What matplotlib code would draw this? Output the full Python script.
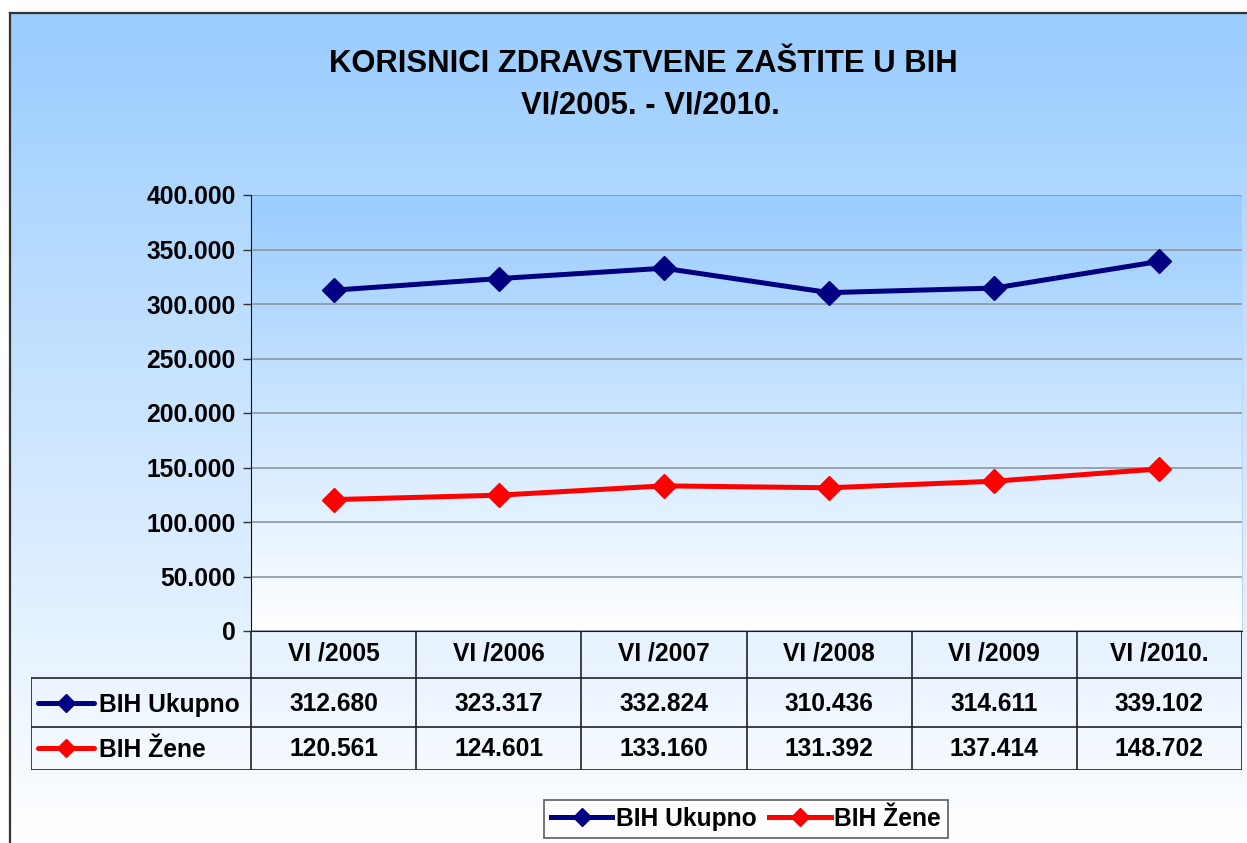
import numpy as np
import matplotlib
matplotlib.use("Agg")
import matplotlib.pyplot as plt
from matplotlib.lines import Line2D
from matplotlib.colors import LinearSegmentedColormap
from matplotlib.ticker import FuncFormatter

categories = ["VI /2005", "VI /2006", "VI /2007", "VI /2008", "VI /2009", "VI /2010."]
ukupno = [312680, 323317, 332824, 310436, 314611, 339102]
zene = [120561, 124601, 133160, 131392, 137414, 148702]
series_names = ["BIH Ukupno", "BIH Žene"]
series_colors = ["#000080", "#FF0000"]
title_lines = ["KORISNICI ZDRAVSTVENE ZAŠTITE U BIH", "VI/2005. - VI/2010."]

W, H = 1247, 843
FS = 17.7
plt.rcParams['font.family'] = ['Liberation Sans', 'DejaVu Sans']
plt.rcParams['font.weight'] = 'bold'
fig = plt.figure(figsize=(W / 100, H / 100), dpi=100)
fig.patch.set_facecolor('white')

def fx(px):
    return px / W

def fy(py):
    return 1 - py / H

cmap = LinearSegmentedColormap.from_list("bg", ["#99CCFF", "#FFFFFF"])
grad = np.linspace(0, 1, 256).reshape(-1, 1)

# figure background frame
bg = fig.add_axes([fx(10), 0, 1 - fx(10), fy(13)])
bg.imshow(grad, aspect='auto', cmap=cmap, extent=[0, 1, 0, 1], origin='upper')
bg.set_xlim(0, 1); bg.set_ylim(0, 1)
bg.set_xticks([]); bg.set_yticks([])
for s in ['right', 'bottom']:
    bg.spines[s].set_visible(False)
for s in ['left', 'top']:
    bg.spines[s].set_color('#333333')
    bg.spines[s].set_linewidth(1.6)
bg.set_zorder(0)

# main plot
L, R, T, B = 251, 1242, 195, 631
ax = fig.add_axes([fx(L), fy(B), fx(R - L), fy(T) - fy(B)])
ax.set_zorder(2)
ax.imshow(grad, aspect='auto', cmap=cmap, extent=[-0.5, 5.5, 0, 400000],
          origin='upper', zorder=0)
x = np.arange(len(categories))
for vals, col in zip([ukupno, zene], series_colors):
    ax.plot(x, vals, color=col, lw=3.6, marker='D', ms=12.5, zorder=5,
            solid_joinstyle='round', solid_capstyle='round')
ax.set_xlim(-0.5, 5.5)
ax.set_ylim(0, 400000)
ax.set_yticks(np.arange(0, 400001, 50000))
ax.yaxis.set_major_formatter(FuncFormatter(
    lambda v, p: "0" if v == 0 else f"{int(v):,}".replace(",", ".")))
ax.grid(axis='y', color='#8C96A0', lw=1.2, zorder=1)
ax.set_axisbelow(True)
ax.set_xticks([])
ax.tick_params(axis='y', length=6, width=1, color='#333333', labelsize=FS, pad=5)
for lab in ax.get_yticklabels():
    lab.set_fontweight('bold')
ax.spines['left'].set_color('#111111')
ax.spines['bottom'].set_color('#111111')
ax.spines['top'].set_visible(False)
ax.spines['right'].set_color('#B8D8F8')

# data table (row boundaries in pixel rows)
TL, TB = 31, 770
rows_y = [631, 678, 727, 770]
unit = (R - L) / 6.0
tab = fig.add_axes([fx(TL), fy(TB), fx(R - TL), fy(B) - fy(TB)])
tab.set_zorder(3)
tab.patch.set_alpha(0)
x0 = -0.5 - (L - TL) / unit
tab.set_xlim(x0, 5.5)
tab.set_ylim(rows_y[-1], rows_y[0])
tab.axis('off')
lc = '#222222'
tab.plot([-0.5, 5.5], [rows_y[0], rows_y[0]], color=lc, lw=1.2)
for yy in rows_y[1:]:
    tab.plot([x0, 5.5], [yy, yy], color=lc, lw=1.2)
tab.plot([x0, x0], [rows_y[1], rows_y[3]], color=lc, lw=1.2)
for i in range(7):
    tab.plot([i - 0.5, i - 0.5], [rows_y[0], rows_y[3]], color=lc, lw=1.2)
text_y = [653, 704, 749]
for i, c in enumerate(categories):
    tab.text(i, text_y[0], c, ha='center', va='center', fontsize=FS, fontweight='bold')
for r, (vals, name, col) in enumerate(zip([ukupno, zene], series_names, series_colors)):
    ty = text_y[r + 1]
    for i, v in enumerate(vals):
        tab.text(i, ty, f"{v:,}".replace(",", "."), ha='center', va='center',
                 fontsize=FS, fontweight='bold')
    tab.plot([x0 + 0.04, x0 + 0.38], [ty - 1, ty - 1], color=col, lw=3.6,
             solid_capstyle='round')
    tab.plot([x0 + 0.21], [ty - 1], marker='D', color=col, ms=9)
    tab.text(x0 + 0.41, ty + 1, name, ha='left', va='center', fontsize=FS,
             fontweight='bold')

# legend
handles = [Line2D([], [], color=c, lw=3.6, marker='D', ms=9) for c in series_colors]
leg = fig.legend(handles, series_names, loc='center',
                 bbox_to_anchor=(fx(746), fy(819)), ncol=2, frameon=True,
                 fancybox=False, edgecolor='#333333', fontsize=FS,
                 handlelength=2.5, handletextpad=0.15, columnspacing=0.5,
                 borderpad=0.3)
leg.get_frame().set_linewidth(1.2)
leg.get_frame().set_facecolor('white')
for t in leg.get_texts():
    t.set_fontweight('bold')

# title
fig.text(fx(643), fy(64), title_lines[0], ha='center', va='center',
         fontsize=22.3, fontweight='bold')
fig.text(fx(650), fy(106), title_lines[1], ha='center', va='center',
         fontsize=22.3, fontweight='bold')

fig.savefig("out.png", dpi=100, facecolor='white')
